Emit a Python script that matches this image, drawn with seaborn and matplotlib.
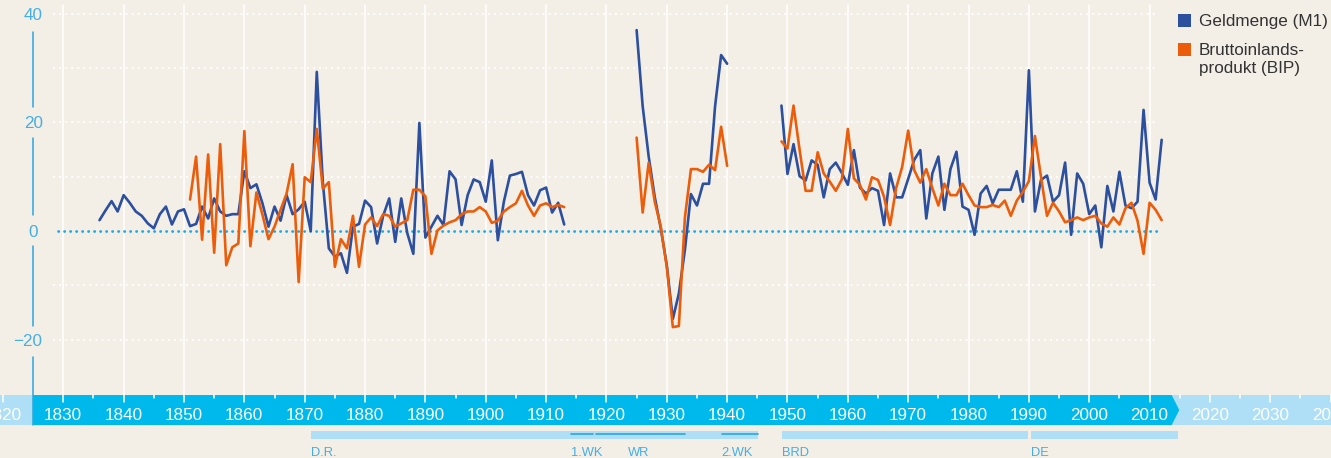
import pandas as pd
import matplotlib
matplotlib.use("Agg")
import matplotlib.pyplot as plt
from matplotlib.patches import Polygon, Rectangle
import seaborn as sns

# Veraenderung gegenueber Vorjahr in %
years_1 = list(range(1836, 1914))
m1_1 = [2.0, 3.8, 5.5, 3.6, 6.6, 5.2, 3.6, 2.8, 1.4, 0.5,
        3.1, 4.5, 1.2, 3.6, 4.0, 0.9, 1.3, 4.5, 2.3, 6.0,
        3.6, 2.8, 3.1, 3.1, 11.0, 7.9, 8.6, 5.1, 0.8, 4.5,
        1.9, 6.6, 3.1, 4.0, 5.4, 0.0, 29.3, 9.0, -3.2, -4.7,
        -4.1, -7.7, 0.8, 1.3, 5.6, 4.4, -2.3, 2.8, 6.0, -2.0,
        6.0, -0.4, -4.2, 19.9, -1.2, 0.8, 2.8, 1.1, 11.0, 9.5,
        1.1, 6.6, 9.5, 9.0, 5.4, 13.0, -1.7, 5.4, 10.2, 10.5,
        10.9, 6.6, 4.7, 7.5, 8.0, 3.4, 5.2, 1.2]
years_bip_1 = list(range(1851, 1914))
bip_1 = [5.8, 13.7, -1.6, 14.1, -4.0, 16.0, -6.3, -3.0, -2.3, 18.4,
         -2.8, 7.1, 3.0, -1.5, 0.8, 3.9, 6.9, 12.3, -9.4, 9.9,
         9.0, 18.8, 7.8, 9.0, -6.6, -1.5, -3.2, 2.8, -6.6, 1.2,
         2.5, 0.9, 3.1, 2.8, 0.8, 1.4, 2.0, 7.6, 7.6, 6.4,
         -4.2, 0.1, 1.0, 1.6, 2.0, 3.1, 3.6, 3.6, 4.4, 3.6,
         1.5, 1.9, 3.6, 4.4, 5.1, 7.4, 4.7, 2.8, 4.7, 5.1,
         4.4, 4.8, 4.4]

years_2 = list(range(1925, 1941))
m1_2 = [37.0, 23.0, 13.7, 6.3, 0.5, -6.3, -16.2, -11.5, -3.5, 6.8,
        4.7, 8.7, 8.7, 23.0, 32.4, 30.8]
bip_2 = [17.2, 3.4, 12.6, 5.4, 0.8, -6.6, -17.7, -17.5, 2.5, 11.4,
         11.4, 10.9, 12.2, 11.2, 19.2, 12.0]

years_3 = list(range(1949, 2013))
m1_3 = [23.1, 10.5, 16.0, 10.1, 9.3, 13.0, 12.2, 6.2, 11.4, 12.6,
        10.7, 8.5, 14.9, 8.0, 6.9, 7.9, 7.4, 1.1, 10.6, 6.2,
        6.2, 9.6, 13.1, 14.9, 2.3, 10.6, 13.7, 3.9, 11.4, 14.6,
        4.5, 3.9, -0.7, 6.9, 8.3, 5.1, 7.6, 7.6, 7.6, 11.0,
        5.4, 29.6, 3.6, 9.4, 10.2, 5.4, 6.6, 12.6, -0.7, 10.6,
        8.7, 3.1, 4.7, -3.0, 8.3, 3.6, 10.9, 4.7, 4.2, 5.4,
        22.3, 8.9, 5.8, 16.8]
bip_3 = [16.5, 15.2, 23.1, 15.0, 7.4, 7.4, 14.5, 10.6, 9.1, 7.4,
         9.5, 18.8, 9.7, 8.5, 5.8, 9.9, 9.4, 6.3, 1.1, 7.9,
         11.8, 18.5, 11.2, 8.9, 11.4, 7.9, 4.7, 8.7, 6.6, 6.6,
         8.7, 6.6, 4.7, 4.4, 4.4, 4.8, 4.4, 5.6, 2.8, 5.6,
         7.2, 9.2, 17.5, 10.0, 2.8, 5.2, 3.6, 1.6, 2.0, 2.5,
         2.0, 2.5, 2.8, 1.4, 0.8, 2.5, 1.2, 4.2, 5.2, 1.9,
         -4.2, 5.2, 3.9, 2.0]

series = ["Geldmenge (M1)", "Bruttoinlands-\nprodukt (BIP)"]
x_ticks = list(range(1820, 2041, 10))
y_ticks = [40, 20, 0, -20]

# Zeitabschnitte unter der Zeitleiste
period_names = ["D.R.", "BRD", "DE"]
period_start = [1871.0, 1949.05, 1990.35]
period_end = [1945.05, 1989.85, 2014.65]
war_names = ["1.WK", "WR", "2.WK"]
war_start = [1914.1, 1918.3, 1939.1]
war_end = [1917.8, 1933.0, 1945.05]
war_label_x = [1914.1, 1923.6, 1939.1]

BLUE = "#2c4f9e"
ORANGE = "#ec5d0b"
BG = "#f3efe7"
CYAN = "#00b9ec"
LIGHT = "#afdff6"
AXBLUE = "#2aa6de"
TXTBLUE = "#45afe3"

# long-form table, one "segment" per unbroken stretch
parts = [
    (series[0], "m1_1", years_1, m1_1),
    (series[1], "bip_1", years_bip_1, bip_1),
    (series[0], "m1_2", years_2, m1_2),
    (series[1], "bip_2", years_2, bip_2),
    (series[0], "m1_3", years_3, m1_3),
    (series[1], "bip_3", years_3, bip_3),
]
df = pd.concat([pd.DataFrame({"jahr": y, "wert": v, "reihe": s, "segment": seg})
                for s, seg, y, v in parts], ignore_index=True)

sns.set_style("white")
plt.rcParams["font.family"] = ["Liberation Sans", "DejaVu Sans"]

fig = plt.figure(figsize=(13.31, 4.58), dpi=100, facecolor=BG)
ax = fig.add_axes([0, 0, 1, 1])
ax.set_facecolor(BG)
ax.set_xlim(1819.51, 2040.06)
ax.set_ylim(-41.80, 42.54)

# grid
for yv in [40, 30, 20, 10, -10, -20]:
    ax.plot([1828.5, 2011.3], [yv, yv], color="white", lw=1.5,
            linestyle=(0, (0.1, 2.8)), dash_capstyle="round", zorder=1)
for xv in range(1830, 2011, 10):
    ax.plot([xv, xv], [41.6, -31.5], color="white", lw=1.1, zorder=1)
ax.plot([1829.1, 2012.1], [0, 0], color=AXBLUE, lw=2.0,
        linestyle=(0, (0.1, 2.06)), dash_capstyle="round", zorder=2)

sns.lineplot(data=df, x="jahr", y="wert", hue="reihe", units="segment",
             estimator=None, palette=[BLUE, ORANGE], hue_order=series,
             lw=1.9, legend=False, ax=ax, zorder=3)

# timeline bar
bar_top, bar_bot = -30.20, -35.73
ax.add_patch(Rectangle((1819.0, bar_bot), 222, bar_top - bar_bot,
                       facecolor=LIGHT, edgecolor="none", zorder=4))
ax.add_patch(Polygon([(1825.0, bar_top), (2013.66, bar_top),
                      (2014.92, (bar_top + bar_bot) / 2), (2013.66, bar_bot),
                      (1825.0, bar_bot)], closed=True,
                     facecolor=CYAN, edgecolor="none", zorder=5))
for xv in x_ticks:
    ax.plot([xv, xv], [bar_top, -31.49], color="white", lw=1.1, zorder=6)
    ax.text(xv, -34.81, str(xv), color="white", fontsize=12.3,
            ha="center", va="baseline", zorder=7)
for xv in range(1835, 2040, 10):
    ax.plot([xv, xv], [bar_top, -30.82], color="white", lw=1.1, zorder=6)

# y axis
for y0, y1 in [(36.7, 22.8), (17.07, 2.95), (-2.76, -17.5), (-23.26, bar_bot)]:
    ax.plot([1825, 1825], [y0, y1], color=AXBLUE, lw=1.1, zorder=8)
for yv in y_ticks:
    if yv < 0:
        ax.text(1826.55, yv - 1.12, "\u2212" + str(-yv), color=TXTBLUE,
                fontsize=12.3, ha="right", va="baseline")
    else:
        ax.text(1825.0, yv - 1.12, str(yv), color=TXTBLUE,
                fontsize=12.3, ha="center", va="baseline")

# periods
for name, s, e in zip(period_names, period_start, period_end):
    ax.add_patch(Rectangle((s, -38.25), e - s, 1.42, facecolor=LIGHT,
                           edgecolor="none", zorder=4))
    ax.text(s, -41.4, name, color=TXTBLUE, fontsize=9.3, ha="left", va="baseline")
for name, s, e, lx in zip(war_names, war_start, war_end, war_label_x):
    ax.plot([s, e], [-37.4, -37.4], color=AXBLUE, lw=1.2, zorder=5)
    ax.text(lx, -41.4, name, color=TXTBLUE, fontsize=9.3, ha="left", va="baseline")

# legend
for i, (label, col) in enumerate(zip(series, [BLUE, ORANGE])):
    top = [39.96, 34.68][i]
    ax.add_patch(Rectangle((2014.7, top - 2.39), 2.1, 2.39, facecolor=col,
                           edgecolor="none", zorder=8))
    for j, line in enumerate(label.split("\n")):
        base = [37.75, 32.4][i] - j * 3.37
        ax.text(2018.2, base, line, color="#333333", fontsize=12.3,
                ha="left", va="baseline")

ax.axis("off")
fig.savefig("out.png", dpi=100, facecolor=BG)
